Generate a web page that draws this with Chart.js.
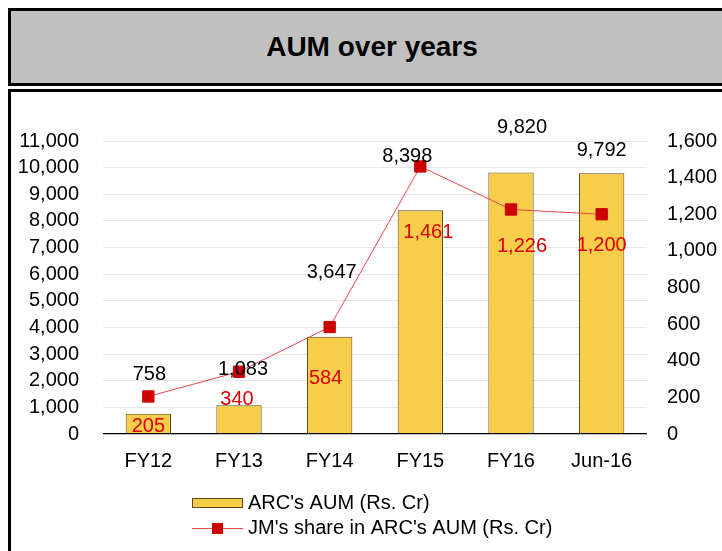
<!DOCTYPE html>
<html>
<head>
<meta charset="utf-8">
<script src="https://cdn.jsdelivr.net/npm/chart.js@4/dist/chart.umd.min.js"></script>
<style>
  html, body { margin: 0; padding: 0; background: #fff; overflow: hidden; width: 722px; height: 551px; }
  #titleBox {
    position: absolute; left: 8px; top: 8px; width: 722px; height: 72px;
    background: #c0c0c0; border: 3px solid #000;
    font: bold 28px "Liberation Sans", Arial, sans-serif; color: #000;
    display: flex; align-items: center; justify-content: center;
  }
  #panel {
    position: absolute; left: 8px; top: 89px; width: 722px; height: 480px;
    border: 3px solid #000; background: #fff;
  }
  #chart { position: absolute; left: 0; top: 0; }
</style>
</head>
<body>
<div id="titleBox">AUM over years</div>
<div id="panel"></div>
<canvas id="chart" width="722" height="551"></canvas>
<script>
const categories = ["FY12", "FY13", "FY14", "FY15", "FY16", "Jun-16"];
const arcAum = [758, 1083, 3647, 8398, 9820, 9792];
const jmShare = [205, 340, 584, 1461, 1226, 1200];
const leftTicks = { min: 0, max: 11000, step: 1000 };
const rightTicks = { min: 0, max: 1600, step: 200 };

const FONT = '"Liberation Sans", Arial, sans-serif';
const fmt = v => Number(v).toLocaleString("en-US");

// label nudges (px) copied from the way the labels sit in the original
const barLabelShift = [[1, -39], [4, -36], [2, -64], [-13, -54], [11, -45], [0, -23]];
const lineLabelShift = [[0, 30], [-2, 28], [-4, 51], [8, 66], [11, 37], [0, 31]];

const labelsAndLegend = {
  id: "labelsAndLegend",
  afterDatasetsDraw(chart) {
    const ctx = chart.ctx;
    ctx.save();
    ctx.font = "20px " + FONT;
    ctx.textAlign = "center";
    ctx.textBaseline = "middle";
    const bars = chart.getDatasetMeta(0).data;
    bars.forEach((el, i) => {
      ctx.fillStyle = "#000";
      ctx.fillText(fmt(arcAum[i]), el.x + barLabelShift[i][0], el.y + barLabelShift[i][1]);
    });
    const pts = chart.getDatasetMeta(1).data;
    pts.forEach((el, i) => {
      ctx.fillStyle = "#dd0000";
      ctx.fillText(fmt(jmShare[i]), el.x + lineLabelShift[i][0], el.y + lineLabelShift[i][1]);
    });

    // legend
    const ds = chart.data.datasets;
    ctx.textAlign = "left";
    ctx.fillStyle = ds[0].backgroundColor;
    ctx.fillRect(192, 498, 51, 10);
    ctx.strokeStyle = ds[0].borderColor;
    ctx.lineWidth = 1;
    ctx.strokeRect(192.5, 498.5, 50, 9);
    ctx.fillStyle = "#000";
    ctx.fillText(ds[0].label, 248, 503);

    ctx.strokeStyle = ds[1].borderColor;
    ctx.beginPath();
    ctx.moveTo(192, 528.5);
    ctx.lineTo(243, 528.5);
    ctx.stroke();
    ctx.fillStyle = ds[1].pointBackgroundColor;
    ctx.fillRect(212, 523, 11, 11);
    ctx.fillStyle = "#000";
    ctx.fillText(ds[1].label, 248, 528);
    ctx.restore();
  }
};

new Chart(document.getElementById("chart"), {
  data: {
    labels: categories,
    datasets: [
      {
        type: "bar",
        label: "ARC's AUM (Rs. Cr)",
        data: arcAum,
        yAxisID: "y",
        backgroundColor: "#f8cd4a",
        borderColor: "#5e4c16",
        borderWidth: 1,
        barPercentage: 0.5,
        categoryPercentage: 1,
        order: 1
      },
      {
        type: "line",
        label: "JM's share in ARC's AUM (Rs. Cr)",
        data: jmShare,
        yAxisID: "y1",
        borderColor: "#e84848",
        borderWidth: 1,
        pointStyle: "rect",
        pointRadius: 8,
        pointBackgroundColor: "#cc0000",
        pointBorderColor: "#cc0000",
        pointBorderWidth: 1,
        tension: 0,
        order: 0
      }
    ]
  },
  options: {
    responsive: false,
    animation: false,
    layout: { padding: { top: 141, bottom: 77, left: 0, right: 0 } },
    plugins: { legend: { display: false }, tooltip: { enabled: false } },
    scales: {
      x: {
        grid: { display: false, drawTicks: false },
        border: { display: false },
        ticks: { color: "#000", font: { family: FONT, size: 20 }, padding: 15 },
        afterFit(s) { s.height = 40; }
      },
      y: {
        position: "left",
        min: leftTicks.min, max: leftTicks.max,
        grid: {
          drawTicks: false,
          color: c => c.tick.value === 0 ? "#000" : "#e6e6e6",
          lineWidth: c => c.tick.value === 0 ? 1.3 : 1
        },
        border: { display: false },
        ticks: {
          stepSize: leftTicks.step, maxTicksLimit: 20, autoSkip: false,
          color: "#000", padding: 24,
          font: { family: FONT, size: 20 }, callback: v => fmt(v)
        },
        afterFit(s) { s.width = 103; }
      },
      y1: {
        position: "right",
        min: rightTicks.min, max: rightTicks.max,
        grid: { display: false, drawTicks: false },
        border: { display: false },
        ticks: {
          stepSize: rightTicks.step, maxTicksLimit: 20, autoSkip: false,
          color: "#000", padding: 20,
          font: { family: FONT, size: 20 }, callback: v => fmt(v)
        },
        afterFit(s) { s.width = 75; }
      }
    }
  },
  plugins: [labelsAndLegend]
});
</script>
</body>
</html>
